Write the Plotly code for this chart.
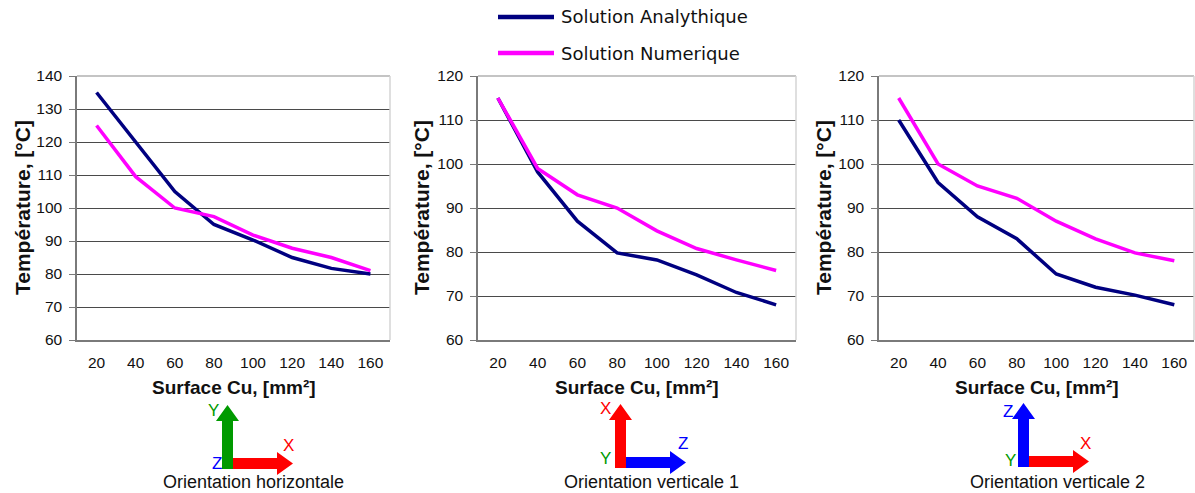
import plotly.graph_objects as go

# ---------------- data ----------------
surface = [20, 40, 60, 80, 100, 120, 140, 160]
x_labels = [str(v) for v in surface]

analytique_h = [135, 120, 105, 95, 90.3, 85, 81.7, 80]
numerique_h = [125, 109.5, 100, 97.4, 91.8, 87.8, 85, 81]
analytique_v1 = [115, 98.2, 87, 79.8, 78.2, 74.8, 70.8, 68]
numerique_v1 = [115, 99, 93, 90, 84.8, 80.8, 78.2, 75.8]
analytique_v2 = [110, 95.8, 88, 83, 75, 72, 70.2, 68]
numerique_v2 = [115, 100, 95, 92.2, 87, 83, 79.8, 78]

y_ranges = [(60, 140), (60, 120), (60, 120)]
series_names = ["Solution Analythique", "Solution Numerique"]
captions = ["Orientation horizontale", "Orientation verticale 1", "Orientation verticale 2"]
y_title = "Température, [°C]"
x_title = "Surface Cu, [mm²]"

# ---------------- styling ----------------
W, H = 1195, 493
C_ANA = "#000080"
C_NUM = "#FF00FF"
GREEN, RED, BLUE = "#009a00", "#ff0000", "#0000ff"
FONT = "Liberation Sans, Arial, sans-serif"


def px(x):
    return x / W


def py(y):
    return 1 - y / H


plot_px = [(77, 390), (478, 796), (879, 1194)]
top_px, bot_px = 76, 340
ytitle_x = [22, 421, 823]

series = [
    (analytique_h, numerique_h),
    (analytique_v1, numerique_v1),
    (analytique_v2, numerique_v2),
]

fig = go.Figure()
layout = dict(
    width=W, height=H, margin=dict(l=0, r=0, t=0, b=0, autoexpand=False),
    paper_bgcolor="white", plot_bgcolor="white", showlegend=False,
    font=dict(family=FONT, size=15, color="#111"),
)
shapes, annotations = [], []

for i, ((ana, num), (x0, x1), yr) in enumerate(zip(series, plot_px, y_ranges)):
    sfx = "" if i == 0 else str(i + 1)
    xa, ya = "x" + sfx, "y" + sfx
    fig.add_trace(go.Scatter(x=x_labels, y=ana, mode="lines", name=series_names[0],
                             line=dict(color=C_ANA, width=3.5), xaxis=xa, yaxis=ya))
    fig.add_trace(go.Scatter(x=x_labels, y=num, mode="lines", name=series_names[1],
                             line=dict(color=C_NUM, width=3.5), xaxis=xa, yaxis=ya))
    layout["xaxis" + sfx] = dict(
        domain=[px(x0), px(x1)], anchor=ya, type="category", range=[-0.5, 7.5],
        showgrid=False, showline=True, linecolor="#7a7a7a", linewidth=1.5,
        ticks="", tickfont=dict(size=15.5, color="#111"), ticklabelstandoff=8,
        fixedrange=True, automargin=False,
    )
    layout["yaxis" + sfx] = dict(
        domain=[py(bot_px), py(top_px)], anchor=xa, range=list(yr), dtick=10,
        showgrid=True, gridcolor="#4a4a4a", gridwidth=1.3,
        showline=True, linecolor="#7a7a7a", linewidth=1.5,
        ticks="outside", ticklen=6, tickcolor="#7a7a7a",
        tickfont=dict(size=15.5, color="#111"), ticklabelstandoff=4,
        zeroline=False, fixedrange=True, automargin=False,
    )
    # light grey top / right border
    shapes.append(dict(type="line", xref="paper", yref="paper",
                       x0=px(x0), x1=px(x1), y0=py(top_px), y1=py(top_px),
                       line=dict(color="#c4c4c4", width=2), layer="above"))
    shapes.append(dict(type="line", xref="paper", yref="paper",
                       x0=px(x1), x1=px(x1), y0=py(top_px), y1=py(bot_px),
                       line=dict(color="#d4d4d4", width=1.5), layer="above"))
    # axis titles
    annotations.append(dict(text="<b>%s</b>" % y_title, x=px(ytitle_x[i]), y=py((top_px + bot_px) / 2),
                            xref="paper", yref="paper", showarrow=False, textangle=-90,
                            font=dict(size=21, color="#111"), xanchor="center", yanchor="middle"))
    annotations.append(dict(text="<b>%s</b>" % x_title, x=px((x0 + x1) / 2), y=py(387),
                            xref="paper", yref="paper", showarrow=False,
                            font=dict(size=19, color="#111"), xanchor="center", yanchor="middle"))

# ---------------- legend (manual) ----------------
for k, (name, col, yy) in enumerate(zip(series_names, [C_ANA, C_NUM], [17, 53])):
    shapes.append(dict(type="line", xref="paper", yref="paper",
                       x0=px(498), x1=px(554), y0=py(yy), y1=py(yy),
                       line=dict(color=col, width=4.5)))
    annotations.append(dict(text=name, x=px(559), y=py(yy), xref="paper", yref="paper",
                            showarrow=False, xanchor="left", yanchor="middle",
                            font=dict(family="DejaVu Sans, sans-serif", size=18, color="#111")))

# ---------------- orientation icons ----------------
icons = [
    # origin (bottom-left of vertical shaft), vertical colour, horizontal colour, labels
    dict(o=(222, 469), vc=GREEN, hc=RED,
         labels=[("Y", GREEN, -9, -59), ("X", RED, 66, -24), ("Z", BLUE, -5, -6)]),
    dict(o=(615, 468), vc=RED, hc=BLUE,
         labels=[("X", RED, -10, -60), ("Z", BLUE, 68, -25), ("Y", GREEN, -9, -10)]),
    dict(o=(1018, 467), vc=BLUE, hc=RED,
         labels=[("Z", BLUE, -10, -56), ("X", RED, 67, -24), ("Y", GREEN, -8, -7)]),
]
caption_x = [253, 651, 1057]
SW, VLEN, HLEN, HEADL, HEADW = 11, 64, 71, 16, 11.5


def path(pts):
    return "M " + " L ".join("%f,%f" % (px(a), py(b)) for a, b in pts) + " Z"


for ic, cx, cap in zip(icons, caption_x, captions):
    ox, oy = ic["o"]
    cxv = ox + SW / 2
    vert = [(ox, oy), (ox + SW, oy), (ox + SW, oy - VLEN + HEADL), (cxv + HEADW, oy - VLEN + HEADL),
            (cxv, oy - VLEN), (cxv - HEADW, oy - VLEN + HEADL), (ox, oy - VLEN + HEADL)]
    cyh = oy - SW / 2
    hor = [(ox + SW, oy), (ox + SW, oy - SW), (ox + HLEN - HEADL, oy - SW), (ox + HLEN - HEADL, cyh - HEADW),
           (ox + HLEN, cyh), (ox + HLEN - HEADL, cyh + HEADW), (ox + HLEN - HEADL, oy)]
    shapes.append(dict(type="path", xref="paper", yref="paper", path=path(vert),
                       fillcolor=ic["vc"], line=dict(width=0)))
    shapes.append(dict(type="path", xref="paper", yref="paper", path=path(hor),
                       fillcolor=ic["hc"], line=dict(width=0)))
    for t, col, dx, dy in ic["labels"]:
        annotations.append(dict(text=t, x=px(ox + dx), y=py(oy + dy), xref="paper", yref="paper",
                                showarrow=False, xanchor="center", yanchor="middle",
                                font=dict(size=17, color=col)))
    annotations.append(dict(text=cap, x=px(cx), y=py(482), xref="paper", yref="paper",
                            showarrow=False, xanchor="center", yanchor="middle",
                            font=dict(size=18, color="#111")))

layout["shapes"] = shapes
layout["annotations"] = annotations
fig.update_layout(**layout)

post = ("document.documentElement.style.margin='0';document.body.style.margin='0';"
        "document.documentElement.style.overflow='hidden';document.body.style.overflow='hidden';"
        "var d=document.getElementById('{plot_id}');d.style.position='fixed';"
        "d.style.left='0px';d.style.top='0px';")
fig.write_html("out.html", config={"displayModeBar": False}, post_script=post)
